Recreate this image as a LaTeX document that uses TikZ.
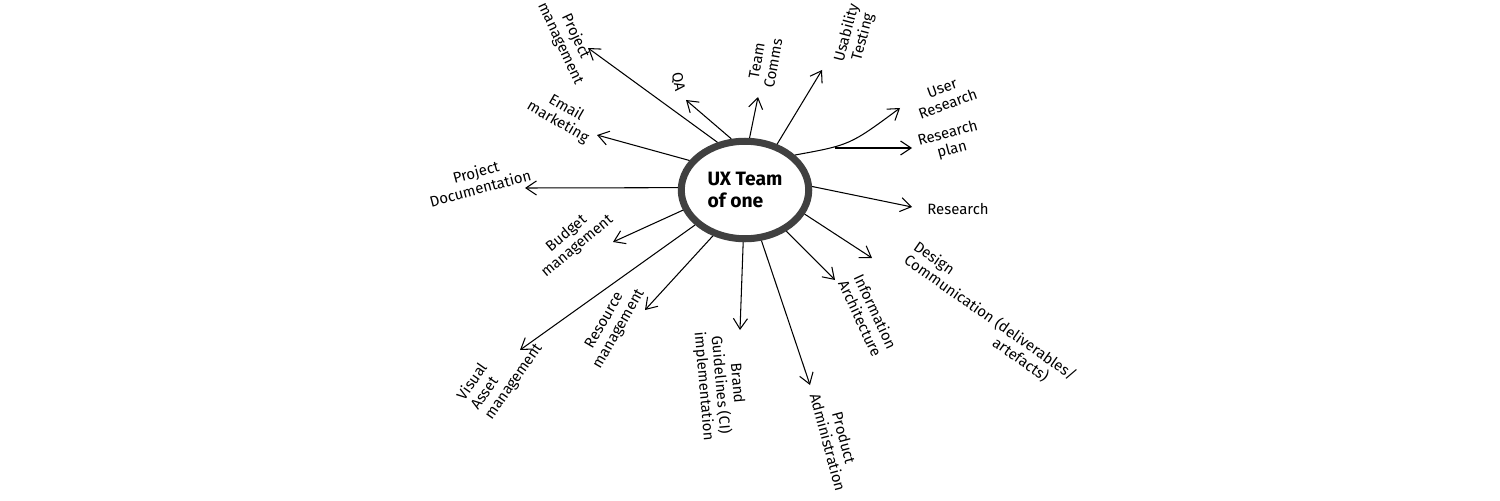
\documentclass[tikz,border=0pt]{standalone}
\usepackage{fontspec}
\setmainfont{Fira Sans}
\usetikzlibrary{shapes.geometric,arrows.meta}
\begin{document}
\begin{tikzpicture}[x=0.02cm,y=-0.02cm,
  lbl/.style={font=\fontsize{8.5}{9.5}\selectfont, align=center, inner sep=1pt},
  arr/.style={->, line width=0.6pt, >={Straight Barb[length=6pt,width=8pt]}}]
\useasboundingbox (0,0) rectangle (1500,500);
\node (c) [ellipse, draw=black!75, line width=4pt, fill=white, minimum width=2.55cm, minimum height=1.95cm, inner sep=0pt, font=\bfseries\fontsize{11}{13}\selectfont, align=left] at (745,190) {UX Team\\of one};
\coordinate (pm) at (588,48);
\coordinate (qa) at (686,100);
\coordinate (tc) at (758,97);
\coordinate (ut) at (822,70);
\coordinate (ur) at (900,108);
\coordinate (rpb) at (835,148);
\coordinate (rp) at (912,148);
\coordinate (rs) at (912,207);
\coordinate (dc) at (872,258);
\coordinate (ia) at (835,280);
\coordinate (pa) at (810,385);
\coordinate (bg) at (740,330);
\coordinate (rm) at (645,310);
\coordinate (va) at (520,350);
\coordinate (bm) at (613,242);
\coordinate (pd) at (525,188);
\coordinate (em) at (597,135);
\draw[arr] (c.120) -- (pm);
\draw[arr] (c.105) -- (qa);
\draw[arr] (c.85) -- (tc);
\draw[arr] (c.55) -- (ut);
\draw[arr] (c.35) .. controls (850,145) .. (ur);
\draw[arr] (rpb) -- (rp);
\draw[arr] (c.3) -- (rs);
\draw[arr] (c.-22) -- (dc);
\draw[arr] (c.-45) -- (ia);
\draw[arr] (c.-72) -- (pa);
\draw[arr] (c.-92) -- (bg);
\draw[arr] (c.-125) -- (rm);
\draw[arr] (c.-145) -- (va);
\draw[arr] (c.-162) -- (bm);
\draw[arr] (c.178) -- (pd);
\draw[arr] (c.152) -- (em);
\node[lbl, rotate=-65] (tpm) at (568,40) {Project\\management};
\node[lbl, rotate=-80] (tqa) at (678,82) {QA};
\node[lbl, rotate=80] (ttc) at (765,62) {Team\\Comms};
\node[lbl, rotate=75] (tut) at (855,35) {Usability\\Testing};
\node[lbl, rotate=20] (tur) at (945,96) {User\\Research};
\node[lbl, rotate=15] (trp) at (950,142) {Research\\plan};
\node[lbl] (trs) at (958,209) {Research};
\node[lbl, rotate=-35, align=left] (tdc) at (990,318) {Design\\Communication (deliverables/\\\hspace{8em}artefacts)};
\node[lbl, rotate=-65] (tia) at (868,315) {Information\\Architecture};
\node[lbl, rotate=-75] (tpa) at (836,440) {Product\\Administration};
\node[lbl, rotate=-85] (tbg) at (720,385) {Brand\\Guidelines (CI)\\implementation};
\node[lbl, rotate=60] (trm) at (612,325) {Resource\\management};
\node[lbl, rotate=55, align=left] (tva) at (500,372) {Visual\\Asset\\management};
\node[lbl, rotate=40] (tbm) at (572,240) {Budget\\management};
\node[lbl, rotate=15] (tpd) at (478,180) {Project\\Documentation};
\node[lbl, rotate=-30] (tem) at (562,115) {Email\\marketing};
\end{tikzpicture}
\end{document}
